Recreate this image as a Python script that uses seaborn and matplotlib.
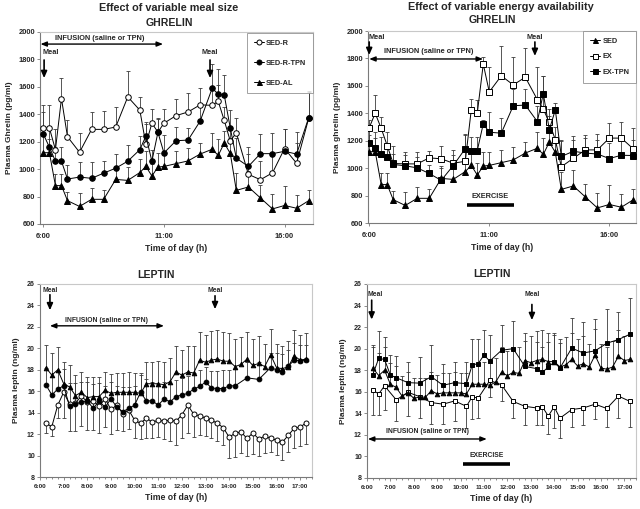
import numpy as np
import matplotlib
matplotlib.use("Agg")
import matplotlib.pyplot as plt
from matplotlib.lines import Line2D
import seaborn as sns

sns.set_style("white")
plt.rcParams['font.family'] = ['Liberation Sans', 'DejaVu Sans']
plt.rcParams['font.weight'] = 'bold'
plt.rcParams['axes.labelweight'] = 'bold'

# ---------------- DATA ----------------
ghr_times = ["6:00", "6:15", "6:30", "6:45", "7:00", "7:30", "8:00", "8:30", "9:00", "9:30",
             "10:00", "10:15", "10:30", "10:45", "11:00", "11:30", "12:00", "12:30", "13:00",
             "13:15", "13:30", "13:45", "14:00", "14:30", "15:00", "15:30", "16:00", "16:30", "17:00"]

# Ghrelin (pg/ml)
ghr_sed = [1120, 1120, 880, 880, 770, 728, 780, 780, 925, 918, 975, 1020, 950, 1015, 1020, 1040,
           1060, 1110, 1145, 1100, 1190, 1115, 845, 870, 790, 710, 735, 715, 770]
ghr_sed_err = [120, 100, 86, 86, 64, 100, 85, 66, 90, 100, 100, 110, 90, 100, 95, 90, 95, 80,
               120, 120, 90, 110, 125, 120, 97, 110, 145, 95, 80]
ghr_sedr = [1300, 1300, 1142, 1515, 1236, 1123, 1290, 1290, 1307, 1527, 1430, 1180, 1335, 1270,
            1335, 1390, 1417, 1469, 1465, 1495, 1355, 1205, 1265, 962, 923, 973, 1150, 1043, 1370]
ghr_sedr_err = [170, 165, 150, 150, 120, 140, 130, 135, 145, 190, 95, 150, 100, 100, 100, 125,
                140, 120, 130, 120, 100, 100, 110, 150, 140, 130, 145, 150, 190]
ghr_sedr_tpn = [1255, 1160, 1058, 1058, 928, 942, 933, 971, 1007, 1058, 1142, 1241, 1058, 1268,
                1118, 1207, 1212, 1350, 1590, 1547, 1540, 1300, 1080, 1020, 1113, 1113, 1130, 1110, 1375]
ghr_sedr_tpn_err = [165, 140, 100, 100, 100, 110, 120, 90, 105, 120, 100, 100, 80, 100, 130, 100,
                    90, 120, 180, 185, 145, 130, 150, 140, 140, 150, 160, 160, 195]
ghr_ex = [1295, 1400, 1290, 1164, 1034, 1031, 1031, 1075, 1068, 1036, 1050, 1425, 1400, 1759,
          1556, 1673, 1607, 1663, 1500, 1430, 1333, 1207, 1010, 1072, 1133, 1133, 1219, 1219, 1140]
ghr_ex_err = [55, 130, 85, 100, 125, 90, 85, 50, 90, 95, 200, 80, 100, 50, 180, 220, 200, 210,
              235, 240, 100, 95, 190, 130, 110, 115, 110, 120, 150]
ghr_ex_tpn = [1186, 1150, 1100, 1080, 1027, 1017, 1002, 961, 911, 1019, 1142, 1128, 1128, 1323,
              1262, 1255, 1455, 1460, 1340, 1544, 1280, 1425, 1085, 1123, 1110, 1103, 1070, 1094, 1092]
ghr_ex_tpn_err = [100, 110, 130, 90, 75, 80, 80, 60, 90, 80, 100, 100, 100, 30, 145, 110, 120,
                  120, 110, 125, 100, 50, 120, 110, 110, 100, 110, 120, 110]

# Leptin (ng/ml): samples every 15 min from 6:15 (index k)
lep_start, lep_step, lep_n = 6.25, 0.25, 45
lep_sed = [18.2, 17.5, 18.0, 16.7, 16.4, 15.6, 15.9, 15.4, 15.5, 15.5, 16.1, 15.8, 15.9, 15.9, 15.9,
           15.9, 15.8, 16.7, 16.7, 16.7, 16.6, 16.9, 17.8, 17.5, 17.8, 17.7, 18.9, 18.7, 18.9, 19.0,
           18.8, 18.8, 18.3, 18.5, 19.0, 18.4, 18.6, 18.3, 19.4, 18.2, 18.1, 18.3, 19.3, 18.9, 19.0]
lep_sed_err = [2.1, 2.1, 2.15, 2.0, 2.0, 1.9, 1.9, 1.9, 1.8, 1.8, 1.7, 1.8, 1.8, 1.8, 1.9, 1.8, 1.9,
               2.0, 2.0, 2.1, 2.1, 2.2, 2.4, 2.3, 2.4, 2.5, 2.6, 2.5, 2.7, 2.7, 2.7, 2.65, 2.6, 2.6,
               2.5, 2.5, 2.55, 2.1, 2.4, 2.2, 2.1, 2.4, 2.4, 2.3, 2.45]
lep_sedr = [13.0, 12.7, 14.7, 15.9, 14.8, 14.9, 15.55, 15.0, 15.1, 14.6, 15.3, 14.3, 14.7, 13.9, 14.25,
            13.3, 13.0, 13.5, 13.1, 13.3, 13.2, 13.3, 13.2, 13.8, 14.7, 13.85, 13.7, 13.5, 13.3, 13.0,
            12.6, 11.7, 12.1, 12.2, 11.6, 12.1, 11.55, 11.8, 11.6, 11.45, 11.25, 11.9, 12.55, 12.65, 13.05]
lep_sedr_err = [0.9, 0.9, 1.2, 2.4, 2.5, 2.6, 2.8, 2.6, 2.7, 2.5, 2.6, 2.3, 2.3, 1.6, 1.8, 1.7, 1.5,
                1.9, 1.5, 1.6, 1.7, 1.9, 2.2, 2.2, 2.6, 2.1, 1.8, 1.7, 1.7, 1.6, 1.6, 1.9, 2.2, 2.0,
                1.6, 2.0, 1.6, 1.6, 1.3, 1.4, 1.7, 1.6, 1.8, 1.8, 2.0]
lep_sedr_tpn_idx = list(range(0, 33)) + [34, 36, 38, 39, 40, 41, 42, 43, 44]
lep_sedr_tpn = [16.6, 15.65, 16.2, 16.5, 14.6, 14.8, 15.0, 15.1, 14.4, 15.1, 14.5, 15.3, 14.5, 14.1,
                14.4, 14.7, 15.9, 15.1, 15.1, 14.7, 15.3, 15.0, 15.5, 15.65, 15.8, 16.2, 16.45, 16.85,
                16.3, 16.25, 16.25, 16.5, 16.5, 17.25, 17.1, 18.2, 18.0, 17.8, 18.35, 18.9, 18.85, 18.9]
lep_sedr_tpn_err = [1.6, 1.7, 1.7, 1.6, 2.2, 2.0, 1.9, 1.8, 2.3, 1.7, 2.0, 1.6, 2.0, 2.3, 2.0, 1.8,
                    1.6, 2.0, 1.8, 2.0, 1.6, 1.7, 1.5, 1.6, 1.6, 1.5, 1.5, 1.4, 1.6, 1.6, 1.7, 1.5,
                    1.6, 1.5, 1.6, 1.4, 1.6, 1.7, 1.5, 1.6, 1.5, 1.4]
lep_ex_idx = [0, 1, 2, 4, 6, 8, 10, 12, 14, 16, 17, 18, 20, 22, 24, 26, 28, 29, 30, 31, 32, 34, 36,
              38, 40, 42, 44]
lep_ex = [16.15, 15.8, 16.55, 15.25, 15.95, 15.55, 15.0, 14.85, 15.15, 14.65, 15.55, 15.4, 17.05,
          16.65, 15.1, 14.65, 14.5, 14.6, 13.75, 14.6, 13.55, 14.35, 14.5, 14.85, 14.45, 15.6, 15.1]
lep_ex_err = [2.3, 2.0, 2.2, 2.0, 2.2, 2.0, 2.0, 1.8, 1.9, 2.0, 2.1, 1.8, 1.5, 1.5, 1.5, 1.7, 1.6,
              1.7, 1.7, 2.0, 1.8, 1.6, 1.6, 1.4, 1.7, 2.0, 2.4]
lep_ex_tpn_idx = [0, 1, 2, 3, 4, 6, 8, 10, 12, 14, 16, 17, 18, 19, 20, 22, 24, 26, 28, 29, 30, 31,
                  32, 34, 36, 38, 40, 42, 44]
lep_ex_tpn = [17.6, 19.1, 19.0, 17.55, 17.3, 16.85, 16.8, 17.4, 16.6, 16.85, 16.75, 18.5, 18.6, 19.4,
              18.85, 19.85, 20.0, 18.35, 18.15, 17.8, 18.3, 18.75, 18.2, 20.05, 19.6, 19.8, 20.5,
              20.85, 21.35]
lep_ex_tpn_err = [2.6, 2.5, 2.1, 1.85, 2.0, 1.9, 2.4, 2.9, 2.0, 1.9, 2.0, 2.4, 2.3, 2.3, 2.45, 2.3,
                  2.6, 2.4, 2.5, 2.4, 2.3, 2.5, 2.3, 2.8, 2.85, 2.95, 3.2, 2.55, 3.35]

lep_hour_labels = ["6:00", "7:00", "8:00", "9:00", "10:00", "11:00", "12:00", "13:00", "14:00",
                   "15:00", "16:00", "17:00"]


def hrs(s):
    h, m = s.split(":")
    return int(h) + int(m) / 60.0


T_GHR = np.array([hrs(s) for s in ghr_times])
T_LEP = lep_start + lep_step * np.arange(lep_n)

# ---------------- FIGURE ----------------
W, H = 640, 509
fig = plt.figure(figsize=(W / 100, H / 100), dpi=100)


def rect(x0, y0, x1, y1):
    return [x0 / W, 1 - y1 / H, (x1 - x0) / W, (y1 - y0) / H]


ax_gl = fig.add_axes(rect(40, 32, 313, 224))
ax_gr = fig.add_axes(rect(368, 31, 636, 223))
ax_ll = fig.add_axes(rect(40, 284, 312, 477))
ax_lr = fig.add_axes(rect(367, 284, 636, 478))

ECOL = '#3a3a3a'


def series(ax, t, y, e, marker, face, ms, down=False):
    t = np.asarray(t, float)
    y = np.asarray(y, float)
    e = np.asarray(e, float)
    tip = y - e if down else y + e
    ax.vlines(t, y, tip, colors=ECOL, lw=0.6, zorder=1)
    ax.plot(t, tip, ls='none', marker='_', ms=3, mew=0.6, color=ECOL, zorder=1)
    sns.lineplot(x=t, y=y, ax=ax, color='black', lw=0.7, marker=marker, markersize=ms,
                 markerfacecolor=face, markeredgecolor='black', markeredgewidth=0.7,
                 legend=False, estimator=None, sort=False, zorder=3)


def style(ax):
    for s in ['left', 'bottom']:
        ax.spines[s].set_color('#7a7a7a')
        ax.spines[s].set_linewidth(0.8)
    for s in ['top', 'right']:
        ax.spines[s].set_color('#c8c8c8')
        ax.spines[s].set_linewidth(0.8)
    ax.tick_params(axis='both', which='both', direction='out', color='#7a7a7a', width=0.6,
                   bottom=True, left=True)
    ax.tick_params(axis='both', which='major', length=2.2, pad=1.5)
    ax.tick_params(axis='both', which='minor', length=1.5)
    ax.set_facecolor('white')


# ---- Ghrelin panels ----
def ghrelin_axes(ax, xlim, ylabel):
    style(ax)
    ax.set_xlim(*xlim)
    ax.set_ylim(600, 2000)
    ax.set_yticks(np.arange(600, 2001, 200))
    ax.set_xticks([6, 11, 16])
    ax.set_xticklabels(["6:00", "11:00", "16:00"])
    ax.tick_params(axis='x', labelsize=5.4, pad=4)
    ax.tick_params(axis='y', labelsize=5.4)
    ax.set_xlabel("Time of day (h)", fontsize=6.3, labelpad=3)
    ax.set_ylabel(ylabel, fontsize=6.0, labelpad=4)


series(ax_gl, T_GHR, ghr_sedr, ghr_sedr_err, 'o', 'white', 4.0)
series(ax_gl, T_GHR, ghr_sedr_tpn, ghr_sedr_tpn_err, 'o', 'black', 4.0)
series(ax_gl, T_GHR, ghr_sed, ghr_sed_err, '^', 'black', 3.8)
ghrelin_axes(ax_gl, (5.86, 17.18), "Plasma Ghrelin (pg/ml)")

series(ax_gr, T_GHR, ghr_sed, ghr_sed_err, '^', 'black', 3.8)
series(ax_gr, T_GHR, ghr_ex, ghr_ex_err, 's', 'white', 3.8)
series(ax_gr, T_GHR, ghr_ex_tpn, ghr_ex_tpn_err, 's', 'black', 3.8)
ghrelin_axes(ax_gr, (5.95, 17.11), "Plasma ghrelin (pg/ml)")


# ---- Leptin panels ----
def leptin_axes(ax):
    style(ax)
    ax.set_xlim(6.0, 17.5)
    ax.set_ylim(8, 26)
    ax.set_yticks(np.arange(8, 27, 2))
    ax.set_xticks(np.arange(6, 18, 1))
    ax.set_xticklabels(lep_hour_labels)
    ax.set_xticks(np.arange(6, 17.51, 0.25), minor=True)
    ax.tick_params(axis='x', labelsize=4.6, pad=3)
    ax.tick_params(axis='y', labelsize=5.0)
    ax.set_xlabel("Time of day (h)", fontsize=6.3, labelpad=3)
    ax.set_ylabel("Plasma leptin (ng/ml)", fontsize=6.0, labelpad=5)


T_TPN = T_LEP[lep_sedr_tpn_idx]
series(ax_ll, T_LEP, lep_sedr, lep_sedr_err, 'o', 'white', 3.6, down=True)
series(ax_ll, T_TPN, lep_sedr_tpn, lep_sedr_tpn_err, 'o', 'black', 3.4)
series(ax_ll, T_LEP, lep_sed, lep_sed_err, '^', 'black', 3.3)
leptin_axes(ax_ll)

series(ax_lr, T_LEP[lep_ex_idx], lep_ex, lep_ex_err, 's', 'white', 3.4, down=True)
series(ax_lr, T_LEP, lep_sed, lep_sed_err, '^', 'black', 3.3)
series(ax_lr, T_LEP[lep_ex_tpn_idx], lep_ex_tpn, lep_ex_tpn_err, 's', 'black', 3.4)
leptin_axes(ax_lr)

# ---- Legends ----
def make_legend(ax, entries, top_gap, spacing):
    handles = [Line2D([0], [0], color='black', lw=0.7, marker=m, markersize=3.6,
                      markerfacecolor=f, markeredgecolor='black', markeredgewidth=0.7, label=l)
               for l, m, f in entries]
    leg = ax.legend(handles=handles, loc='upper right', bbox_to_anchor=(1.0, top_gap),
                    fontsize=5.3, frameon=True, fancybox=False, handlelength=1.4,
                    handletextpad=0.3, labelspacing=spacing, borderpad=0.9, borderaxespad=0.0)
    leg.get_frame().set_edgecolor('#8a8a8a')
    leg.get_frame().set_linewidth(0.7)
    for t in leg.get_texts():
        t.set_fontweight('bold')


make_legend(ax_gl, [("SED-R", 'o', 'white'), ("SED-R-TPN", 'o', 'black'),
                    ("SED-AL", '^', 'black')], 0.995, 1.75)
make_legend(ax_gr, [("SED", '^', 'black'), ("EX", 's', 'white'),
                    ("EX-TPN", 's', 'black')], 1.0, 1.15)

# ---- Annotations ----
AFS = 5.3


def meal(ax, x, ytext, ytop, ybot, fs, ha='center', xt=None):
    ax.text(x if xt is None else xt, ytext, "Meal", ha=ha, va='center', fontsize=fs, fontweight='bold')
    ax.annotate('', xy=(x, ybot), xytext=(x, ytop),
                arrowprops=dict(arrowstyle='-|>,head_length=0.5,head_width=0.22', color='black',
                                lw=1.2, shrinkA=0, shrinkB=0, mutation_scale=8))


def infusion(ax, x0, x1, y, xt, yt, fs):
    ax.annotate('', xy=(x1, y), xytext=(x0, y),
                arrowprops=dict(arrowstyle='<|-|>,head_length=0.45,head_width=0.18', color='black',
                                lw=1.0, shrinkA=0, shrinkB=0, mutation_scale=8))
    ax.text(xt, yt, "INFUSION (saline or TPN)", ha='center', va='center', fontsize=fs,
            fontweight='bold')


def exercise(ax, x0, x1, ybar, ytext, fs):
    ax.plot([x0, x1], [ybar, ybar], color='black', lw=2.6, solid_capstyle='butt')
    ax.text((x0 + x1) / 2, ytext, "EXERCISE", ha='center', va='center', fontsize=fs,
            fontweight='bold')


# top-left
infusion(ax_gl, 5.88, 10.96, 1912, 8.35, 1950, AFS)
meal(ax_gl, 6.03, 1847, 1796, 1664, AFS, ha='left', xt=5.97)
meal(ax_gl, 12.91, 1847, 1796, 1664, AFS)
# top-right
meal(ax_gr, 6.0, 1949, 1920, 1825, AFS, ha='left', xt=5.97)
infusion(ax_gr, 6.0, 10.74, 1796, 8.49, 1847, AFS)
meal(ax_gr, 12.9, 1949, 1920, 1818, AFS)
exercise(ax_gr, 10.06, 12.04, 733, 790, AFS)
# bottom-left
meal(ax_ll, 6.42, 25.35, 25.0, 23.55, 4.9)
meal(ax_ll, 13.4, 25.35, 24.9, 23.65, 4.9)
infusion(ax_ll, 6.42, 11.24, 22.1, 8.79, 22.64, 4.9)
# bottom-right
meal(ax_lr, 6.2, 25.07, 24.5, 22.7, 4.9, ha='left', xt=6.02)
meal(ax_lr, 13.05, 25.07, 24.1, 22.65, 4.9)
infusion(ax_lr, 6.04, 11.12, 11.62, 8.6, 12.3, 4.9)
exercise(ax_lr, 10.1, 12.1, 9.3, 10.13, 4.9)

# ---- Titles ----
def ftext(x, y, s, fs):
    fig.text(x / W, 1 - y / H, s, ha='center', va='center', fontsize=fs, fontweight='bold')


ftext(169, 8, "Effect of variable meal size", 7.8)
ftext(169, 23, "GHRELIN", 7.6)
ftext(501, 7.5, "Effect of variable energy availability", 7.8)
ftext(492, 20, "GHRELIN", 7.6)
ftext(156, 275, "LEPTIN", 7.6)
ftext(492, 274, "LEPTIN", 7.6)

fig.savefig("out.png", dpi=100)
